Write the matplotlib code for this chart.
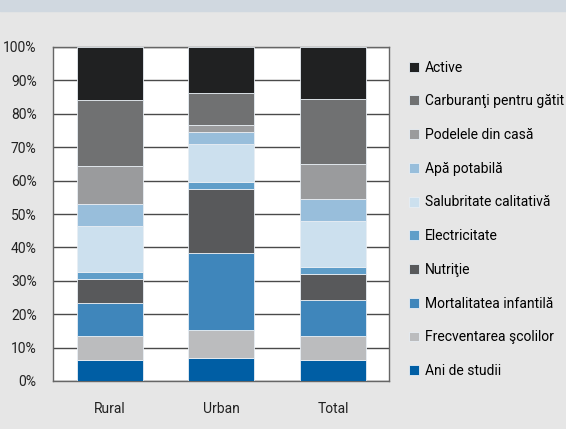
import matplotlib.pyplot as plt
from matplotlib.patches import Rectangle

plt.rcParams['font.family'] = ['Roboto', 'DejaVu Sans']

categories = ["Rural", "Urban", "Total"]
series = ["Ani de studii", "Frecventarea şcolilor", "Mortalitatea infantilă", "Nutriţie",
          "Electricitate", "Salubritate calitativă", "Apă potabilă", "Podelele din casă",
          "Carburanţi pentru gătit", "Active"]
values = {
    "Ani de studii":           [6.2, 7.0, 6.4],
    "Frecventarea şcolilor":   [7.2, 8.4, 7.1],
    "Mortalitatea infantilă":  [10.0, 22.8, 10.9],
    "Nutriţie":                [7.1, 19.3, 7.7],
    "Electricitate":           [2.0, 2.2, 2.0],
    "Salubritate calitativă":  [14.0, 11.2, 13.8],
    "Apă potabilă":            [6.5, 3.7, 6.5],
    "Podelele din casă":       [11.4, 2.0, 10.6],
    "Carburanţi pentru gătit": [19.8, 9.6, 19.4],
    "Active":                  [15.8, 13.8, 15.6],
}
colors = ["#005ea4", "#bbbcbe", "#3f86bb", "#58595b", "#5f9ec9",
          "#cce0ee", "#98bedb", "#9a9b9d", "#707172", "#202122"]

fig = plt.figure(figsize=(5.66, 4.29), dpi=100, facecolor="#e6e6e6")
fig.patches.append(Rectangle((0, 1 - 11 / 429), 1, 11 / 429, transform=fig.transFigure,
                             color="#d0d8e0", zorder=0))
ax = fig.add_axes([53.3 / 566, 1 - 381 / 429, 335.7 / 566, 334 / 429])
ax.set_facecolor("white")

x = range(len(categories))
bottom = [0, 0, 0]
handles = []
for name, c in zip(series, colors):
    v = values[name]
    b = ax.bar(x, v, width=0.59, bottom=bottom, color=c, edgecolor="#e8eef4",
               linewidth=0.6, zorder=3, label=name)
    handles.append(b)
    bottom = [bb + vv for bb, vv in zip(bottom, v)]

ax.set_xlim(-0.505, 2.5)
ax.set_ylim(0, 100)
ax.set_yticks(range(0, 101, 10))
ax.set_yticklabels([f"{t}%" for t in range(0, 101, 10)])
ax.set_xticks(list(x))
ax.set_xticklabels(categories)
ax.tick_params(length=0, labelsize=10, colors="#222222")
ax.tick_params(axis="x", pad=15)
ax.tick_params(axis="y", pad=12)
ax.grid(axis="y", color="#4a4a4a", linewidth=1, zorder=1)
for s in ax.spines.values():
    s.set_color("#666666")
    s.set_linewidth(1)

fig.legend(handles[::-1], series[::-1], loc="upper left",
           bbox_to_anchor=(403 / 566, 1 - 55 / 429), frameon=False,
           fontsize=10, handlelength=0.72, handleheight=0.72,
           handletextpad=0.45, labelspacing=1.42, borderaxespad=0)

fig.savefig("out.png", dpi=100, facecolor=fig.get_facecolor())
